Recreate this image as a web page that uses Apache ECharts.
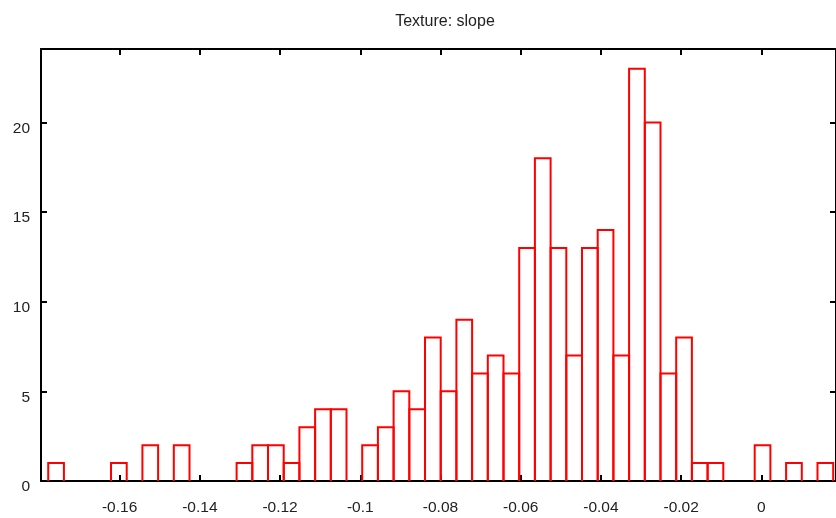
<!DOCTYPE html>
<html>
<head>
<meta charset="utf-8">
<script src="https://cdn.jsdelivr.net/npm/echarts@6/dist/echarts.min.js"></script>
<style>
html, body { margin: 0; padding: 0; background: #fff; }
#main { width: 836px; height: 518px; }
</style>
</head>
<body>
<div id="main"></div>
<script>
// histogram data
var binStart = -0.1778
var binWidth = 0.003914
var counts = [1, 0, 0, 0, 1, 0, 2, 0, 2, 0,
              0, 0, 1, 2, 2, 1, 3, 4, 4, 0,
              2, 3, 5, 4, 8, 5, 9, 6, 7, 6,
              13, 18, 13, 7, 13, 14, 7, 23, 20, 6,
              8, 1, 1, 0, 0, 2, 0, 1, 0, 1]
var xTicks = [-0.16, -0.14, -0.12, -0.1, -0.08, -0.06, -0.04, -0.02, 0]
var yTicks = [0, 5, 10, 15, 20]
var xMin = -0.1796, xMax = 0.0186
var yMax = 24.1

var bins = []
for (var i = 0; i < counts.length; i++) {
	if (counts[i] > 0) {
		bins.push([binStart + i * binWidth, binStart + (i + 1) * binWidth, counts[i]])
	}
}

var chart = echarts.init(document.getElementById('main'))

var font = 'Liberation Sans, Arial, sans-serif'
var lineStyle = { color: '#000', width: 2 }

function xAx(pos, labels) {
	return {
		type: 'value', position: pos, min: xMin, max: xMax,
		splitLine: { show: false },
		axisLine: { show: true, onZero: false, lineStyle: lineStyle },
		axisTick: { show: true, inside: true, length: 6, lineStyle: lineStyle, customValues: xTicks },
		axisLabel: {
			show: labels, customValues: xTicks, margin: 19,
			color: '#222', fontFamily: font, fontSize: 15.5,
			formatter: function (v) { return String(+v.toFixed(4)) }
		}
	}
}
function yAx(pos, labels) {
	return {
		type: 'value', position: pos, min: 0, max: yMax,
		splitLine: { show: false },
		axisLine: { show: true, onZero: false, lineStyle: lineStyle },
		axisTick: { show: true, inside: true, length: 6, lineStyle: lineStyle, customValues: yTicks },
		axisLabel: {
			show: labels, customValues: yTicks, margin: 11,
			color: '#222', fontFamily: font, fontSize: 15.5,
			verticalAlign: 'top', padding: [-2, 0, 0, 0]
		}
	}
}

chart.setOption({
	animation: false,
	title: {
		text: 'Texture: slope', left: 440, top: 9, textAlign: 'center',
		textStyle: { color: '#222', fontFamily: font, fontSize: 16, fontWeight: 'normal' }
	},
	grid: { left: 41, top: 49, right: -2, bottom: 37 },
	xAxis: [xAx('bottom', true), xAx('top', false)],
	yAxis: [yAx('left', true), yAx('right', false)],
	series: [{
		type: 'custom',
		data: bins,
		renderItem: function (params, api) {
			var a = api.coord([api.value(0), 0])
			var b = api.coord([api.value(0), api.value(2)])
			var c = api.coord([api.value(1), api.value(2)])
			var d = api.coord([api.value(1), 0])
			return {
				type: 'polyline',
				shape: { points: [a, b, c, d] },
				style: { fill: 'none', stroke: '#ff0000', lineWidth: 2 }
			}
		}
	}]
})
</script>
</body>
</html>
